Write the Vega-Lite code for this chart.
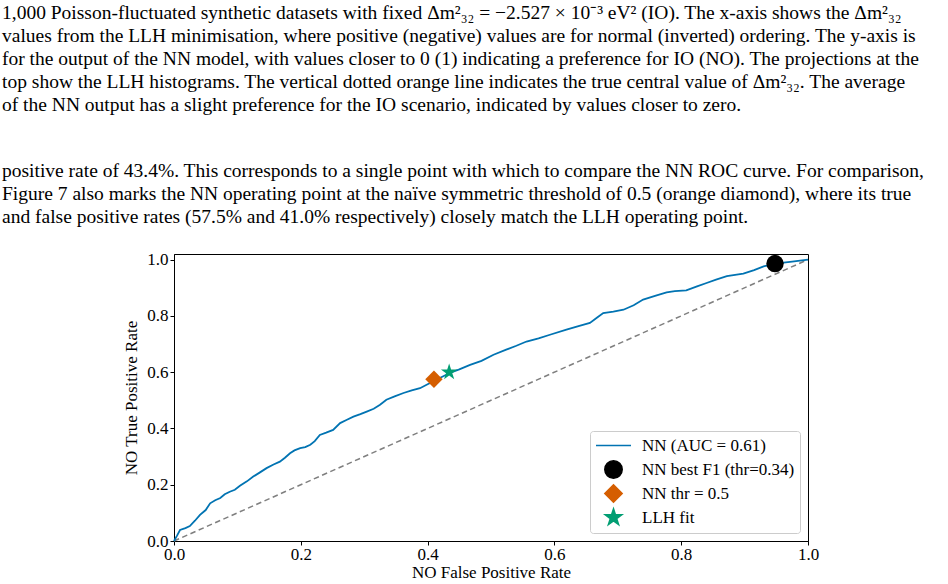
{
  "$schema": "https://vega.github.io/schema/vega-lite/v6.json",
  "width": 634,
  "height": 287,
  "autosize": {"type": "none"},
  "padding": {"left": 174, "top": 254, "right": 140, "bottom": 43},
  "background": "white",
  "config": {
    "font": "Liberation Serif",
    "view": {"stroke": "black", "strokeWidth": 1},
    "axis": {
      "domainColor": "black", "tickColor": "black", "labelColor": "black", "titleColor": "black",
      "grid": false, "labelFontSize": 17, "titleFontSize": 17, "titleFontWeight": "normal",
      "tickSize": 4, "labelPadding": 2, "labelFont": "Liberation Serif", "titleFont": "Liberation Serif"
    },
    "legend": {
      "labelFont": "Liberation Serif", "labelFontSize": 17, "labelColor": "black"
    }
  },
  "title": {
    "text": [
      "1,000 Poisson-fluctuated synthetic datasets with fixed Δm²₃₂ = −2.527 × 10⁻³ eV² (IO). The x-axis shows the Δm²₃₂",
      "values from the LLH minimisation, where positive (negative) values are for normal (inverted) ordering. The y-axis is",
      "for the output of the NN model, with values closer to 0 (1) indicating a preference for IO (NO). The projections at the",
      "top show the LLH histograms. The vertical dotted orange line indicates the true central value of Δm²₃₂. The average",
      "of the NN output has a slight preference for the IO scenario, indicated by values closer to zero."
    ],
    "subtitle": [
      "positive rate of 43.4%. This corresponds to a single point with which to compare the NN ROC curve. For comparison,",
      "Figure 7 also marks the NN operating point at the naïve symmetric threshold of 0.5 (orange diamond), where its true",
      "and false positive rates (57.5% and 41.0% respectively) closely match the LLH operating point."
    ],
    "anchor": "start",
    "frame": "group",
    "dx": -172,
    "font": "Liberation Serif",
    "fontSize": 19.5,
    "fontWeight": "normal",
    "lineHeight": 23,
    "color": "black",
    "subtitleFont": "Liberation Serif",
    "subtitleFontSize": 19.5,
    "subtitleLineHeight": 23,
    "subtitleColor": "black",
    "subtitlePadding": 47,
    "offset": 23
  },
  "datasets": {
    "diag": [{"fpr": 0, "tpr": 0}, {"fpr": 1, "tpr": 1}],
    "roc": [
      {"fpr": 0, "tpr": 0, "series": "NN (AUC = 0.61)"},
      {"fpr": 0.005, "tpr": 0.02, "series": "NN (AUC = 0.61)"},
      {"fpr": 0.0095, "tpr": 0.039, "series": "NN (AUC = 0.61)"},
      {"fpr": 0.018, "tpr": 0.046, "series": "NN (AUC = 0.61)"},
      {"fpr": 0.025, "tpr": 0.053, "series": "NN (AUC = 0.61)"},
      {"fpr": 0.033, "tpr": 0.072, "series": "NN (AUC = 0.61)"},
      {"fpr": 0.041, "tpr": 0.093, "series": "NN (AUC = 0.61)"},
      {"fpr": 0.05, "tpr": 0.11, "series": "NN (AUC = 0.61)"},
      {"fpr": 0.057, "tpr": 0.134, "series": "NN (AUC = 0.61)"},
      {"fpr": 0.065, "tpr": 0.145, "series": "NN (AUC = 0.61)"},
      {"fpr": 0.073, "tpr": 0.153, "series": "NN (AUC = 0.61)"},
      {"fpr": 0.08, "tpr": 0.166, "series": "NN (AUC = 0.61)"},
      {"fpr": 0.088, "tpr": 0.175, "series": "NN (AUC = 0.61)"},
      {"fpr": 0.096, "tpr": 0.182, "series": "NN (AUC = 0.61)"},
      {"fpr": 0.104, "tpr": 0.196, "series": "NN (AUC = 0.61)"},
      {"fpr": 0.115, "tpr": 0.212, "series": "NN (AUC = 0.61)"},
      {"fpr": 0.125, "tpr": 0.229, "series": "NN (AUC = 0.61)"},
      {"fpr": 0.135, "tpr": 0.243, "series": "NN (AUC = 0.61)"},
      {"fpr": 0.146, "tpr": 0.259, "series": "NN (AUC = 0.61)"},
      {"fpr": 0.157, "tpr": 0.272, "series": "NN (AUC = 0.61)"},
      {"fpr": 0.167, "tpr": 0.282, "series": "NN (AUC = 0.61)"},
      {"fpr": 0.175, "tpr": 0.296, "series": "NN (AUC = 0.61)"},
      {"fpr": 0.183, "tpr": 0.312, "series": "NN (AUC = 0.61)"},
      {"fpr": 0.19, "tpr": 0.322, "series": "NN (AUC = 0.61)"},
      {"fpr": 0.199, "tpr": 0.33, "series": "NN (AUC = 0.61)"},
      {"fpr": 0.207, "tpr": 0.334, "series": "NN (AUC = 0.61)"},
      {"fpr": 0.215, "tpr": 0.342, "series": "NN (AUC = 0.61)"},
      {"fpr": 0.222, "tpr": 0.355, "series": "NN (AUC = 0.61)"},
      {"fpr": 0.23, "tpr": 0.377, "series": "NN (AUC = 0.61)"},
      {"fpr": 0.24, "tpr": 0.385, "series": "NN (AUC = 0.61)"},
      {"fpr": 0.251, "tpr": 0.395, "series": "NN (AUC = 0.61)"},
      {"fpr": 0.262, "tpr": 0.419, "series": "NN (AUC = 0.61)"},
      {"fpr": 0.272, "tpr": 0.43, "series": "NN (AUC = 0.61)"},
      {"fpr": 0.283, "tpr": 0.442, "series": "NN (AUC = 0.61)"},
      {"fpr": 0.294, "tpr": 0.451, "series": "NN (AUC = 0.61)"},
      {"fpr": 0.304, "tpr": 0.46, "series": "NN (AUC = 0.61)"},
      {"fpr": 0.315, "tpr": 0.47, "series": "NN (AUC = 0.61)"},
      {"fpr": 0.325, "tpr": 0.484, "series": "NN (AUC = 0.61)"},
      {"fpr": 0.335, "tpr": 0.502, "series": "NN (AUC = 0.61)"},
      {"fpr": 0.348, "tpr": 0.514, "series": "NN (AUC = 0.61)"},
      {"fpr": 0.362, "tpr": 0.526, "series": "NN (AUC = 0.61)"},
      {"fpr": 0.375, "tpr": 0.535, "series": "NN (AUC = 0.61)"},
      {"fpr": 0.388, "tpr": 0.543, "series": "NN (AUC = 0.61)"},
      {"fpr": 0.4, "tpr": 0.557, "series": "NN (AUC = 0.61)"},
      {"fpr": 0.409, "tpr": 0.567, "series": "NN (AUC = 0.61)"},
      {"fpr": 0.42, "tpr": 0.58, "series": "NN (AUC = 0.61)"},
      {"fpr": 0.435, "tpr": 0.597, "series": "NN (AUC = 0.61)"},
      {"fpr": 0.45, "tpr": 0.61, "series": "NN (AUC = 0.61)"},
      {"fpr": 0.467, "tpr": 0.626, "series": "NN (AUC = 0.61)"},
      {"fpr": 0.485, "tpr": 0.64, "series": "NN (AUC = 0.61)"},
      {"fpr": 0.504, "tpr": 0.662, "series": "NN (AUC = 0.61)"},
      {"fpr": 0.524, "tpr": 0.68, "series": "NN (AUC = 0.61)"},
      {"fpr": 0.54, "tpr": 0.694, "series": "NN (AUC = 0.61)"},
      {"fpr": 0.556, "tpr": 0.709, "series": "NN (AUC = 0.61)"},
      {"fpr": 0.575, "tpr": 0.72, "series": "NN (AUC = 0.61)"},
      {"fpr": 0.593, "tpr": 0.733, "series": "NN (AUC = 0.61)"},
      {"fpr": 0.619, "tpr": 0.751, "series": "NN (AUC = 0.61)"},
      {"fpr": 0.638, "tpr": 0.764, "series": "NN (AUC = 0.61)"},
      {"fpr": 0.656, "tpr": 0.775, "series": "NN (AUC = 0.61)"},
      {"fpr": 0.668, "tpr": 0.795, "series": "NN (AUC = 0.61)"},
      {"fpr": 0.677, "tpr": 0.81, "series": "NN (AUC = 0.61)"},
      {"fpr": 0.693, "tpr": 0.815, "series": "NN (AUC = 0.61)"},
      {"fpr": 0.709, "tpr": 0.822, "series": "NN (AUC = 0.61)"},
      {"fpr": 0.725, "tpr": 0.838, "series": "NN (AUC = 0.61)"},
      {"fpr": 0.74, "tpr": 0.858, "series": "NN (AUC = 0.61)"},
      {"fpr": 0.76, "tpr": 0.872, "series": "NN (AUC = 0.61)"},
      {"fpr": 0.777, "tpr": 0.884, "series": "NN (AUC = 0.61)"},
      {"fpr": 0.79, "tpr": 0.888, "series": "NN (AUC = 0.61)"},
      {"fpr": 0.808, "tpr": 0.891, "series": "NN (AUC = 0.61)"},
      {"fpr": 0.825, "tpr": 0.905, "series": "NN (AUC = 0.61)"},
      {"fpr": 0.84, "tpr": 0.917, "series": "NN (AUC = 0.61)"},
      {"fpr": 0.855, "tpr": 0.929, "series": "NN (AUC = 0.61)"},
      {"fpr": 0.872, "tpr": 0.941, "series": "NN (AUC = 0.61)"},
      {"fpr": 0.885, "tpr": 0.946, "series": "NN (AUC = 0.61)"},
      {"fpr": 0.898, "tpr": 0.95, "series": "NN (AUC = 0.61)"},
      {"fpr": 0.915, "tpr": 0.963, "series": "NN (AUC = 0.61)"},
      {"fpr": 0.93, "tpr": 0.976, "series": "NN (AUC = 0.61)"},
      {"fpr": 0.948, "tpr": 0.986, "series": "NN (AUC = 0.61)"},
      {"fpr": 0.975, "tpr": 0.993, "series": "NN (AUC = 0.61)"},
      {"fpr": 1.0, "tpr": 1.0, "series": "NN (AUC = 0.61)"}
    ],
    "pts": [
      {"fpr": 0.948, "tpr": 0.986, "series": "NN best F1 (thr=0.34)"},
      {"fpr": 0.41, "tpr": 0.575, "series": "NN thr = 0.5"},
      {"fpr": 0.434, "tpr": 0.6, "series": "LLH fit"}
    ]
  },
  "layer": [
    {
      "data": {"name": "diag"},
      "mark": {"type": "line", "color": "#7f7f7f", "strokeWidth": 1.5, "strokeDash": [5.5, 3.5]},
      "encoding": {
        "x": {"field": "fpr", "type": "quantitative", "scale": {"domain": [0, 1], "nice": false},
              "axis": {"title": "NO False Positive Rate", "values": [0, 0.2, 0.4, 0.6, 0.8, 1.0], "format": ".1f", "labelFlush": false, "labelOverlap": false, "titlePadding": 2, "labelFontSize": 17, "titleFontSize": 17, "labelPadding": 1}},
        "y": {"field": "tpr", "type": "quantitative", "scale": {"domain": [0, 1.02], "nice": false},
              "axis": {"title": "NO True Positive Rate", "values": [0, 0.2, 0.4, 0.6, 0.8, 1.0], "format": ".1f", "labelFlush": false, "labelOverlap": false, "titlePadding": 6, "labelFontSize": 17, "titleFontSize": 17, "labelPadding": 2}}
      }
    },
    {
      "data": {"name": "roc"},
      "mark": {"type": "line", "strokeWidth": 1.8, "interpolate": "linear"},
      "encoding": {
        "x": {"field": "fpr", "type": "quantitative"},
        "y": {"field": "tpr", "type": "quantitative"},
        "color": {
          "field": "series", "type": "nominal",
          "scale": {"domain": ["NN (AUC = 0.61)", "NN best F1 (thr=0.34)", "NN thr = 0.5", "LLH fit"],
                    "range": ["#0173B2", "#000000", "#D55E00", "#029E73"]},
          "legend": {
            "title": null, "orient": "bottom-right", "offset": 8, "padding": 5,
            "strokeColor": "#cccccc", "fillColor": "white", "cornerRadius": 3,
            "rowPadding": -1, "gridAlign": "all", "labelOffset": 19, "symbolOffset": 9, "symbolOpacity": 1,
            "symbolSize": 300, "labelFontSize": 17,
            "encode": {"symbols": {"update": {
              "stroke": {"scale": "color", "field": "value"},
              "fill": {"scale": "color", "field": "value"},
              "strokeWidth": {"value": 1.5}
            }}}
          }
        }
      }
    },
    {
      "data": {"name": "pts"},
      "mark": {"type": "point", "filled": true, "opacity": 1},
      "encoding": {
        "x": {"field": "fpr", "type": "quantitative"},
        "y": {"field": "tpr", "type": "quantitative"},
        "color": {"field": "series", "type": "nominal"},
        "shape": {
          "field": "series", "type": "nominal",
          "scale": {"domain": ["NN (AUC = 0.61)", "NN best F1 (thr=0.34)", "NN thr = 0.5", "LLH fit"],
                    "range": ["M-2,0L2,0", "circle", "diamond", "M0,-1L0.2245,-0.309L0.951,-0.309L0.363,0.118L0.588,0.809L0,0.382L-0.588,0.809L-0.363,0.118L-0.951,-0.309L-0.2245,-0.309Z"]},
          "legend": {"title": null}
        },
        "size": {
          "field": "series", "type": "nominal",
          "scale": {"domain": ["NN (AUC = 0.61)", "NN best F1 (thr=0.34)", "NN thr = 0.5", "LLH fit"],
                    "range": [306, 300, 225, 324]},
          "legend": null
        }
      }
    }
  ]
}
